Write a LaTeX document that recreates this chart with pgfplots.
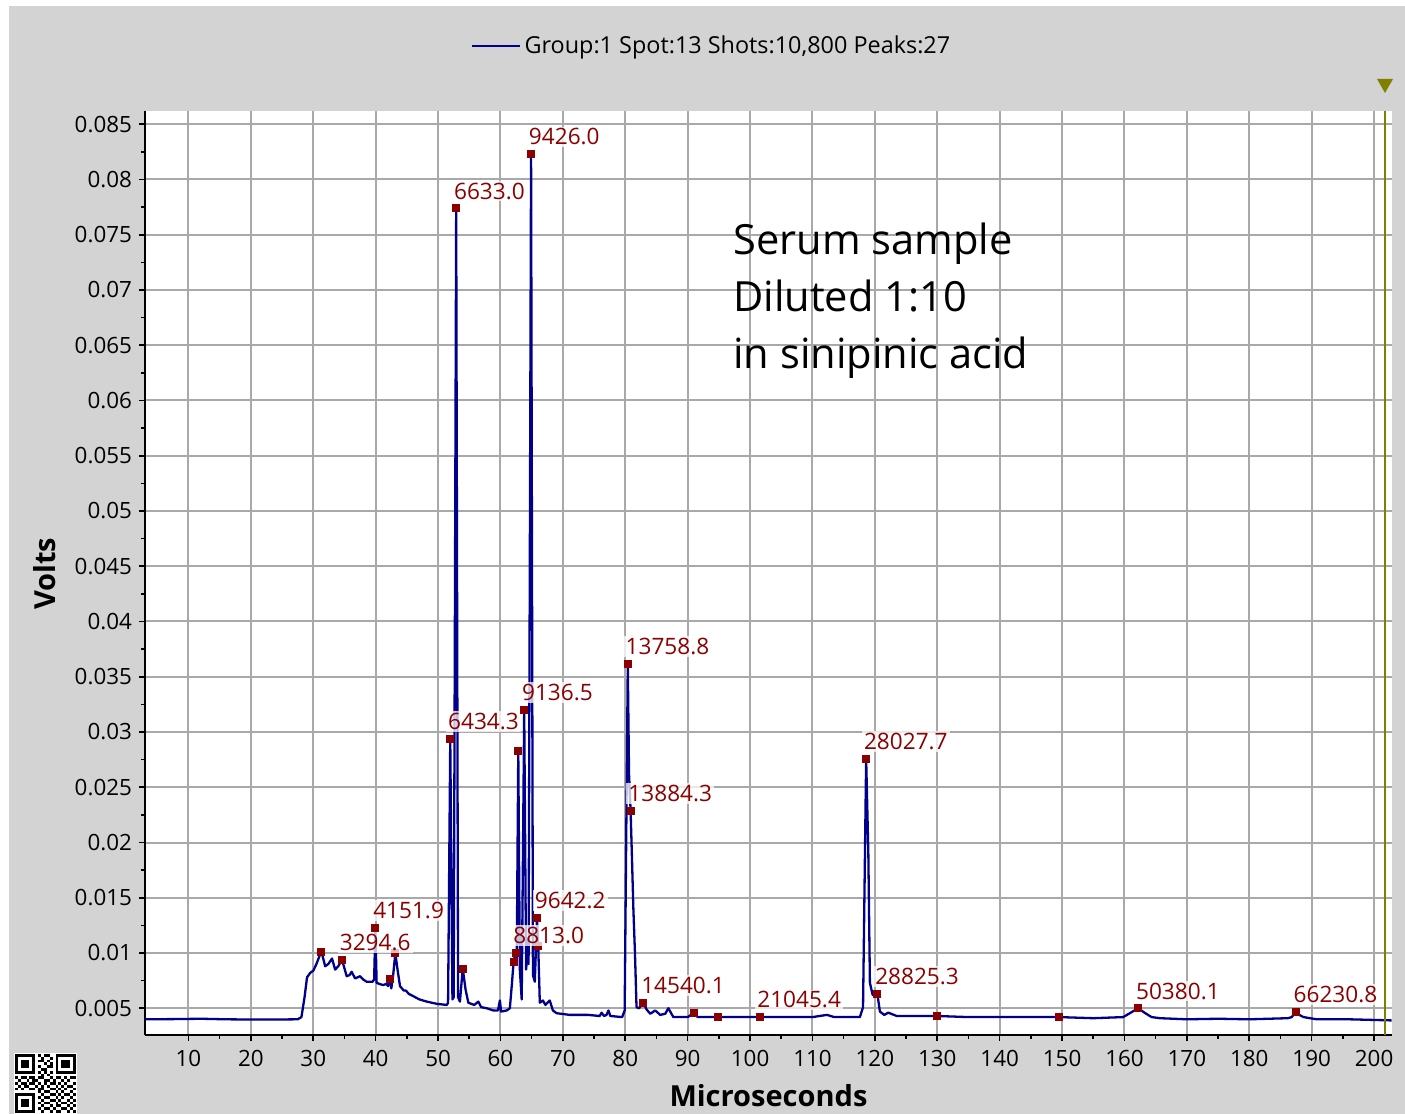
\documentclass[border=0pt]{standalone}
\usepackage{fontspec}
\setmainfont{Open Sans}
\usepackage{pgfplots}
\pgfplotsset{compat=1.18}

\definecolor{panelgray}{RGB}{211,211,211}
\definecolor{gridgray}{RGB}{169,169,169}
\definecolor{tracecol}{RGB}{0,0,140}
\definecolor{peakred}{RGB}{139,0,0}
\definecolor{cursorcol}{RGB}{128,128,0}

\begin{document}
\begin{tikzpicture}
% page frame and panel
\useasboundingbox (-72.5pt,-39.5pt) rectangle (630pt,517.5pt);
\fill[white] (-72.5pt,-39.5pt) rectangle (630pt,517.5pt);
\fill[panelgray] (-68pt,-39.5pt) rectangle (630pt,514.5pt);

% QR badge in the lower left corner (21 x 21 modules)
\begin{scope}[shift={(-65pt,-9.5pt)}, x=1.45pt, y=-1.4pt]
  \fill[white] (-0.5,-0.5) rectangle (21.5,21.5);
  \foreach \cx/\cy in {0/0,14/0,0/14}{
    \fill[black] (\cx,\cy) rectangle ++(7,7);
    \fill[white] (\cx+1,\cy+1) rectangle ++(5,5);
    \fill[black] (\cx+2,\cy+2) rectangle ++(3,3);
  }
  \foreach \r/\cols in {0/{8,10,11},1/{9,12},2/{8,9,11},3/{10,12},4/{8,11,12},
      5/{9,10},6/{8,10,12},7/{9,11},
      8/{0,2,3,5,6,8,9,12,14,15,17,19,20},9/{1,4,6,7,10,11,13,16,18},
      10/{0,2,3,5,6,8,10,12,13,15,17,20},11/{1,3,4,7,9,11,14,16,18,19},
      12/{0,2,5,6,8,9,12,13,15,17,20},13/{8,10,11,14,16,19},
      14/{9,12,13,15,17,18,20},15/{8,10,11,14,16,19},16/{9,12,13,15,18,20},
      17/{8,10,11,14,16,17,19},18/{9,12,14,15,18,20},19/{8,10,11,13,16,17,19},
      20/{9,12,14,15,18,20}}{
    \foreach \c in \cols { \fill[black] (\c,\r) rectangle ++(1,1); }
  }
\end{scope}

% cursor marker above the plot
\fill[cursorcol] (616pt,478pt) -- (624pt,478pt) -- (620pt,471pt) -- cycle;

\begin{axis}[
  at={(0pt,0pt)}, anchor=south west,
  scale only axis, width=623.5pt, height=462pt,
  xmin=3.03, xmax=202.87, ymin=0.00258, ymax=0.0862,
  axis background/.style={fill=white},
  axis x line*=bottom, axis y line*=left,
  axis line style={-, black, line width=1pt},
  xtick={10,20,30,40,50,60,70,80,90,100,110,120,130,140,150,160,170,180,190,200},
  ytick={0.005,0.01,0.015,0.02,0.025,0.03,0.035,0.04,0.045,0.05,0.055,0.06,0.065,0.07,0.075,0.08,0.085},
  minor x tick num=1, minor y tick num=1,
  tick align=outside,
  major tick length=3pt, minor tick length=2pt,
  every tick/.style={black, line width=0.8pt},
  grid=major,
  major grid style={gridgray, line width=1pt},
  scaled y ticks=false,
  /pgf/number format/assume math mode=true,
  y tick label style={/pgf/number format/.cd, fixed, precision=3},
  x tick label style={yshift=-1pt},
  tick label style={font=\fontsize{11.2}{13}\selectfont},
  xlabel={Microseconds}, ylabel={Volts},
  x label style={at={(axis description cs:0.5,0)}, anchor=center, yshift=-30.5pt,
                 font=\fontsize{14.5}{17}\selectfont\bfseries},
  y label style={at={(axis description cs:-0.0802,0.499)}, anchor=center,
                 font=\fontsize{14.5}{17}\selectfont\bfseries},
  legend style={at={(0.455,1.0703)}, anchor=center, draw=none, fill=none,
                font=\fontsize{11.7}{14}\selectfont},
  legend image code/.code={\draw[#1, line width=1pt] (0pt,0pt) -- (24pt,0pt);},
]

% averaged spectrum
\addplot[tracecol, line width=1.15pt, line join=round] coordinates {
(3.1,0.0040) (8,0.00402) (12,0.00405) (16,0.00400) (20,0.00398) (24,0.00398)
(27.5,0.00400) (28.1,0.0042) (28.6,0.0060) (29.0,0.0078) (29.5,0.0082)
(30.0,0.0084) (30.5,0.0090) (31.25,0.0101) (31.5,0.0097) (31.9,0.0088)
(32.4,0.0090) (33.0,0.0095) (33.5,0.0085) (34.0,0.0088) (34.6,0.0094)
(35.35,0.0079) (35.8,0.0080) (36.15,0.0083) (36.7,0.0077) (37.5,0.0079)
(38.0,0.0076) (38.55,0.0074) (39.5,0.0074) (39.75,0.0076) (39.95,0.0123)
(40.15,0.0073) (40.6,0.0072) (41.2,0.0071) (41.7,0.0072) (42.0,0.0070)
(42.3,0.0077) (42.5,0.0068) (42.8,0.0080) (43.15,0.0100) (43.5,0.0085)
(43.9,0.0070) (44.5,0.0066) (44.85,0.0066) (45.3,0.0063) (46.0,0.0061)
(47.0,0.0058) (48.2,0.0056) (49.8,0.0054) (51.4,0.0053) (51.6,0.0055)
(51.95,0.0294) (52.3,0.0058) (52.5,0.0060) (52.9,0.0774) (53.2,0.0060)
(53.5,0.0056) (53.95,0.0086) (54.4,0.0067) (54.85,0.0055) (55.8,0.0053)
(56.45,0.0056) (56.9,0.0051) (57.8,0.0050) (58.85,0.0048) (59.6,0.0048)
(59.9,0.0057) (60.1,0.0047) (61.0,0.0048) (61.5,0.0050) (61.8,0.0070)
(62.1,0.0092) (62.4,0.0100) (62.6,0.0090) (62.85,0.0283) (63.1,0.0085)
(63.4,0.0058) (63.8,0.0320) (64.1,0.0085) (64.3,0.0097) (64.5,0.0090)
(64.9,0.0823) (65.2,0.0080) (65.5,0.0074) (65.85,0.0132) (66.05,0.0106)
(66.3,0.0055) (66.8,0.0057) (67.2,0.0053) (67.9,0.0057) (68.4,0.0048)
(69.0,0.00455) (71.1,0.0044) (74.0,0.0044) (75.9,0.0043) (76.2,0.0046)
(76.6,0.0043) (77.0,0.0044) (77.3,0.0048) (77.6,0.0043) (79.5,0.0042)
(79.9,0.0048) (80.4,0.0362) (80.6,0.0262) (80.85,0.0229) (81.05,0.0190)
(81.3,0.0139) (81.55,0.0100) (81.8,0.0051) (82.2,0.0050) (82.9,0.0055)
(83.4,0.0049) (84.0,0.0045) (84.8,0.0048) (85.6,0.0044) (86.4,0.0045)
(86.9,0.0050) (87.7,0.0042) (90.0,0.0042) (91.05,0.0046) (91.6,0.0042)
(94.9,0.0042) (101.5,0.0042) (110.0,0.0042) (112.3,0.0044) (113.5,0.0042)
(117.6,0.0042) (118.1,0.0051) (118.6,0.0276) (118.95,0.0190) (119.2,0.0073)
(119.65,0.0062) (120.05,0.0062) (120.4,0.0063) (120.8,0.0047) (121.5,0.0044)
(122.15,0.0046) (123.5,0.0043) (130.0,0.0043) (135.0,0.0042) (140.0,0.0042)
(145.0,0.0042) (149.55,0.0042) (155.0,0.0041) (159.8,0.0042) (161.0,0.0046)
(162.2,0.0050) (163.2,0.0046) (164.35,0.0042) (165.7,0.0041) (170.0,0.0040)
(175.0,0.00405) (180.0,0.0040) (186.2,0.0041) (186.8,0.0042) (187.45,0.0047)
(188.0,0.0044) (188.7,0.0042) (190.8,0.0040) (196.0,0.0040) (202.8,0.0039)
};
\addlegendentry{Group:1 Spot:13 Shots:10,800 Peaks:27}

% cursor line
\addplot[cursorcol, line width=1pt, forget plot] coordinates {(201.7,0.00258) (201.7,0.0862)};

% detected peaks without a label
\addplot[only marks, mark=square*, mark size=1.75pt, peakred, forget plot] coordinates {
(31.25,0.0101) (42.3,0.0077) (43.15,0.0100) (53.95,0.0086) (62.1,0.0092)
(62.85,0.0283) (66.05,0.0106) (91.05,0.0046) (94.9,0.0042) (130.0,0.0043)
(149.55,0.0042)
};

% labelled peaks (m/z)
\addplot[only marks, mark=square*, mark size=1.75pt, peakred, forget plot,
  point meta=explicit symbolic,
  nodes near coords,
  every node near coord/.style={anchor=south west, xshift=-2.25pt, yshift=3.2pt,
    inner sep=1pt, text=peakred, fill=white, fill opacity=0.75, text opacity=1,
    font=\fontsize{11.3}{13}\selectfont},
] table[meta=label] {
x y label
34.6 0.0094 3294.6
39.95 0.0123 4151.9
51.95 0.0294 6434.3
52.9 0.0774 6633.0
62.4 0.0100 8813.0
63.8 0.0320 9136.5
64.9 0.0823 9426.0
65.85 0.0132 9642.2
80.4 0.0362 13758.8
80.85 0.0229 13884.3
82.9 0.0055 14540.1
101.5 0.0042 21045.4
118.6 0.0276 28027.7
120.4 0.0063 28825.3
162.2 0.0050 50380.1
187.45 0.0047 66230.8
};

% sample note
\node[anchor=base west, inner sep=0pt, font=\fontsize{20.8}{24}\selectfont] at (axis description cs:0.4715,0.8442) {Serum sample};
\node[anchor=base west, inner sep=0pt, font=\fontsize{20.8}{24}\selectfont] at (axis description cs:0.4715,0.7825) {Diluted 1:10};
\node[anchor=base west, inner sep=0pt, font=\fontsize{20.8}{24}\selectfont] at (axis description cs:0.4715,0.7208) {in sinipinic acid};
\end{axis}
\end{tikzpicture}
\end{document}
